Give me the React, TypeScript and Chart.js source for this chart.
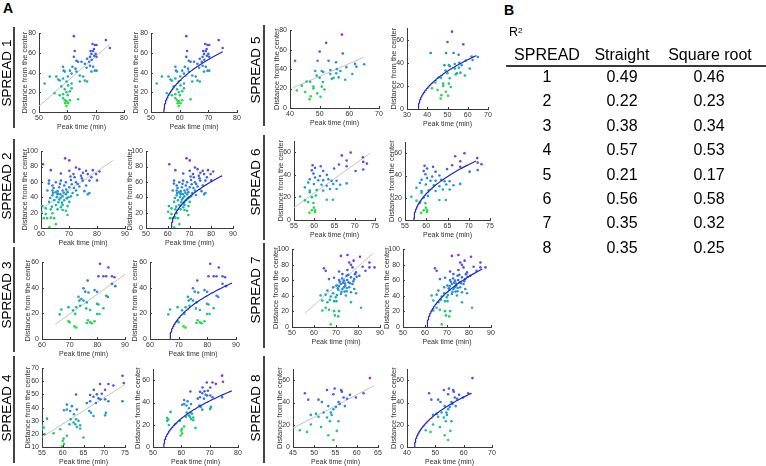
import React, { useEffect, useRef } from 'react';
import { Chart, registerables } from 'chart.js';
Chart.register(...registerables);

// ---------------- DATA ----------------
const spread1 = [[62.3,77],[73.6,73],[75,65],[68.9,69],[69.7,68],[70.3,68],[68.2,62],[69.1,62],[70,59],[68.5,59],[69.5,57],[70.3,56],[68,56],[62.6,62],[62.3,56],[63.2,52],[63.8,51],[65,51],[66.2,49],[67,54],[67.7,51],[68,47],[69.1,46],[69.7,42],[70.3,42],[68.5,41],[58.5,46],[58.7,42],[59.1,41],[60.9,42],[61.8,46],[61.5,39],[63.2,41],[64.4,37],[65.6,36],[66.2,32],[67,31],[64.4,31],[52,29],[53.8,36],[56.1,36],[57.3,32],[58.5,34],[59.7,31],[60.3,27],[61.5,29],[57.9,26],[59.1,23],[55.5,19],[57.3,17],[58.5,18],[59.7,20],[60.9,21],[61.5,24],[59.1,12],[59.7,11],[60.3,9],[59.7,6],[60.9,12],[63.8,13],[58.5,14],[69.4,64],[68.6,53],[66.8,45],[62.9,44],[60.2,36],[56.8,33],[60.1,17],[59.3,9]];
const spread2 = [[60.7,83],[68.6,90.7],[70.1,88],[63.5,75.3],[67.1,71],[70.1,74.5],[72.5,78.7],[73.7,76.6],[76.1,74.5],[78.5,75.3],[80.9,73.6],[71.6,70.2],[74.3,68],[76.7,70.2],[79.7,70.2],[62.9,61.7],[65.3,59.5],[67.1,61.7],[68.9,59.5],[70.7,62.5],[72.5,59.5],[74.9,61.7],[77.3,61.7],[64.1,55.3],[66.5,53.1],[68.3,55.3],[70.1,53.1],[73.7,54],[76.1,55.3],[62.3,48.9],[64.1,48.9],[65.9,48],[67.7,48.9],[69.5,46.7],[72.5,48.9],[75.5,48],[77.3,45.5],[64.1,42.5],[65.9,43.8],[67.7,41.2],[68.9,43.8],[70.7,41.2],[76.7,43.8],[64.7,36.1],[66.5,37],[68.3,36.1],[70.1,34],[62.9,34],[65.3,29.8],[67.7,29.8],[69.5,28.5],[60.5,28.5],[61.7,25.5],[63.5,24.3],[65.9,24.3],[67.7,23.4],[68.9,22.5],[60.2,21.2],[61.7,18.3],[64.1,19.2],[69.5,17],[61,12.8],[62.2,12.8],[63.5,13.5],[64.7,12.8],[65.3,5],[63,1],[66,45],[67,39],[69,50],[71,57],[64.5,52],[66.8,57.5],[72,66],[75,72],[78,66],[67.5,33],[63.3,39],[70.5,67],[73,43],[80,62],[65.2,46.5],[66.9,44.1],[68.1,46],[69.8,40],[71.3,45.5],[65.6,40.3],[64.3,45.7],[66.2,33.5],[67.1,27],[63.9,27.8],[69.2,38.6],[71.8,52],[73.1,57.3],[74.6,64.8],[62.8,57.8]];
const spread3 = [[81,58.8],[84,55.9],[80.4,49],[82.2,49],[83.2,49],[85.3,49],[86.2,48.3],[76.5,45.7],[85.3,43.1],[86.5,41.3],[75,39.6],[75.6,37],[76.8,36.3],[79,38.2],[79.9,36.9],[73.2,33],[74.2,31.2],[73.5,30],[75,30],[72.4,24.8],[73.8,26],[76.2,28.6],[83.2,33.8],[83.8,32.9],[79.9,27.5],[80.4,27],[82.2,24],[79.9,19.5],[80.8,19.5],[76,23.9],[77.4,22.6],[67,23],[69.6,24.9],[71.2,22.4],[72,19.6],[66.4,19.2],[76.6,14.7],[77.4,13],[78,12.3],[79,13.9],[69.6,13.9],[70,13],[71.7,9.9],[72.4,8.9],[76.2,12.5]];
const spread4 = [[74.4,64.2],[74.7,58.7],[69,58],[71,58],[72.2,56.8],[70.2,53.5],[67.5,53.5],[68.2,50.1],[69.4,50.6],[66.6,49.6],[63.2,50],[67.4,48.3],[68.6,47],[69.1,46.3],[70.2,46.3],[66.6,44.8],[71,44.8],[68,43.5],[74.4,44.8],[65.8,43.5],[61,42.3],[62.2,41.1],[61,38.6],[60.3,38],[61.8,37.4],[63.4,38.6],[66.4,37.4],[66.8,36.1],[67.4,33.6],[70.4,36.1],[70.2,34.1],[62.7,34.9],[61.9,31.1],[63.2,31.1],[63.8,29.9],[62.6,28.6],[64.2,26.6],[61.6,27.3],[63.4,25.3],[64.2,24.1],[63,27.3],[56.2,31.6],[55,26.1],[55.4,24.8],[55,23.5],[55.6,19.8],[57.8,20.5],[59.4,23.5],[61,18.5],[60.2,16.4],[60,14.7],[60.3,12.3],[59.8,10.3],[65,17.2]];
const spread5 = [[57.5,75.5],[52.2,67],[50,58],[57.8,56],[41.7,48.5],[49.3,48.5],[53,48.5],[55.5,47],[65,45],[62.4,42.5],[59,42],[55.8,40],[48.5,38],[50.7,38],[57,38],[53.6,35],[49,33.3],[55.6,35.7],[54.7,31],[56.4,31.5],[58.6,29],[54.1,30],[50,31],[45.6,27.3],[51.1,26.7],[50.7,22],[44,23],[47.9,22],[42.3,18],[45.1,16.5],[47.9,20],[51.6,19],[49.2,15],[46.6,9],[50.3,11.5],[47,12],[61,35],[61.9,45.4],[53.6,39],[51.2,37],[46.8,27]];
const spread6 = [[69,60],[72,55.7],[66.8,57.4],[72.1,51.6],[73,50.1],[70.2,43.5],[72.1,44.9],[68,47.8],[64.9,45.8],[68,52.8],[66.1,49.3],[59.6,48.7],[60.2,46.4],[61.6,47.8],[59.4,44.1],[59.8,41.2],[62.2,43.5],[63.1,40.1],[61.4,39.1],[60.2,37.7],[58.9,36.2],[61,35.3],[62.2,35.3],[63.5,36.2],[64.3,34.8],[65.5,34.8],[58.5,33.3],[59.9,31.9],[61.8,31.3],[63.1,30.4],[64.7,31.9],[66.4,31.3],[68,32.5],[57.7,29],[58.9,26.1],[60.6,26.7],[62.2,26.1],[63.9,27.5],[65.5,27.5],[58.9,24.6],[56.5,20.9],[59.4,20.3],[60.4,21.7],[57.7,17.4],[58.5,15.9],[63.1,18],[64.6,18],[59.8,15.1],[59.9,11],[59.4,8.7],[60.2,8.7],[58.8,6.4],[60.2,7.2]];
const spread7 = [[72.2,91.4],[80.9,90.2],[76,83],[78,85.3],[64.5,75.6],[65.3,72.2],[71.4,71.4],[76.8,79.9],[77.5,76.6],[75.2,73.2],[79.1,70.2],[82.1,77.4],[85.2,82.9],[83.4,72.3],[85.2,76.6],[87.5,76.6],[72.9,68],[74.8,65.9],[76.8,63.8],[78.3,61.6],[79.4,64.6],[80.6,65.9],[69.1,63.3],[66.8,61.6],[71.4,60.4],[73.7,59.6],[75.7,57.5],[77.5,55.3],[72.2,55.3],[70.2,53.2],[74.2,53.2],[76,51],[78.3,48.9],[68.7,51],[72.9,48.9],[71.1,47.6],[66.1,46.8],[74.8,46],[76.8,44.7],[79.1,43.4],[68.7,43.4],[72.2,42.5],[65.3,41.6],[74.5,40.4],[67.6,39.2],[63,40.4],[69.9,38.3],[67.2,34.9],[69.1,33.2],[76.8,31.9],[66.1,31.9],[70.2,33.2],[63.8,34.1],[65.3,24.7],[63.8,21.3],[66.8,22.1],[69.1,20.4],[71.4,20.4],[69.5,14.9],[71,13.6],[81.4,24.7],[67.6,3.4],[75.2,92.6],[73.2,57],[74.1,55.8],[75.1,60.5],[72.8,62.3],[73.6,51.2],[71.7,58.1],[76.4,56.2],[74.9,50.1],[73.9,45.5],[70.8,49.7],[77.9,58.9],[75.6,67.2],[78.6,67.9],[72.5,45.1],[71.3,52.5],[70.4,41.1]];
const spread8 = [[63.1,62],[54.8,52.7],[53,51.3],[47.8,48.4],[56.3,51.3],[54.5,47.5],[56.5,49.8],[58.4,46.9],[61.6,48.4],[56.9,44.6],[59.8,44.6],[57.7,43.4],[48.6,42.6],[51,42.6],[51.8,40.5],[55.7,40.5],[56,38.8],[57.2,36.8],[53.3,36.8],[55.1,35.9],[54.5,33.9],[49.2,28.9],[50.4,30],[52.2,31],[53.9,31],[54.1,28.9],[51,27.2],[53,26.6],[49.2,20.3],[51.6,18],[53.7,23.2],[55.7,23.2],[46.6,15.1],[48.3,13.6],[55.3,14.5],[53.3,10.6],[54.5,6.3]];

// straight fit: [x1, y1, x2, y2]
const straightFits = [[50,6,75,69],[60.5,25.5,85.7,88],[64.8,11.5,90.4,51],[55,17.5,75.2,58],[41.1,20.9,64.8,52],[55,11,73.8,59.4],[56,18,87,95],[45,17,64,55]];
// square-root fit y = a*sqrt(x - x0): [x0, a, xEnd]
const sqrtFits = [[54.5,13.5,75],[61.7,14.1,85],[67,9.4,88.6],[53.8,10.3,77.8],[35.6,8.64,64.3],[57.1,13.9,71.7],[61,14.9,86],[42.7,10.8,62.8]];

const spreadNames = ['1','2','3','4','5','6','7','8'];
const r2Straight = ['0.49','0.22','0.38','0.57','0.21','0.56','0.35','0.35'];
const r2Sqrt = ['0.46','0.23','0.34','0.53','0.17','0.58','0.32','0.25'];

const ticks50to80 = [50,60,70,80];
const ticks60to90 = [60,70,80,90];
const ticks50to90 = [50,60,70,80,90];
const ticks40to70 = [40,50,60,70];
const ticks30to70 = [30,40,50,60,70];
const ticks55to75 = [55,60,65,70,75];
const ticks45to65 = [45,50,55,60,65];
const yTicks80 = [0,20,40,60,80];
const yTicks100 = [0,20,40,60,80,100];
const yTicks60 = [0,20,40,60];
const yTicks10to70 = [10,20,30,40,50,60,70];

const allSpreads = [spread1, spread2, spread3, spread4, spread5, spread6, spread7, spread8];

// ---------------- LAYOUT ----------------
type PanelCfg = {
  s: number; kind: 'lin' | 'sqrt';
  xmin: number; xmax: number; xt: number[];
  ymin: number; ymax: number; yt: number[];
  L: number; T: number; R: number; B: number; titleOff: number;
};

const panels: PanelCfg[] = [
  { s: 0, kind: 'lin', xmin: 50, xmax: 80, xt: ticks50to80, ymin: 0, ymax: 80, yt: yTicks80, L: 39, T: 32, R: 124, B: 112, titleOff: 14.5 },
  { s: 0, kind: 'sqrt', xmin: 50, xmax: 80, xt: ticks50to80, ymin: 0, ymax: 80, yt: yTicks80, L: 151, T: 32, R: 237, B: 112, titleOff: 15 },
  { s: 4, kind: 'lin', xmin: 40, xmax: 70, xt: ticks40to70, ymin: 0, ymax: 80, yt: yTicks80, L: 290, T: 29, R: 379, B: 108, titleOff: 13.5 },
  { s: 4, kind: 'sqrt', xmin: 30, xmax: 70, xt: ticks30to70, ymin: 0, ymax: 70, yt: yTicks60, L: 407, T: 27, R: 488, B: 109, titleOff: 13.5 },

  { s: 1, kind: 'lin', xmin: 60, xmax: 90, xt: ticks60to90, ymin: 0, ymax: 100, yt: yTicks100, L: 41, T: 150, R: 125, B: 228, titleOff: 16 },
  { s: 1, kind: 'sqrt', xmin: 50, xmax: 90, xt: ticks50to90, ymin: 0, ymax: 100, yt: yTicks100, L: 146, T: 150, R: 233, B: 228, titleOff: 16 },
  { s: 5, kind: 'lin', xmin: 55, xmax: 75, xt: ticks55to75, ymin: 0, ymax: 70, yt: yTicks60, L: 294, T: 140, R: 375, B: 220, titleOff: 13.5 },
  { s: 5, kind: 'sqrt', xmin: 55, xmax: 75, xt: ticks55to75, ymin: 0, ymax: 70, yt: yTicks60, L: 405, T: 141, R: 490, B: 220, titleOff: 13.5 },

  { s: 2, kind: 'lin', xmin: 60, xmax: 90, xt: ticks60to90, ymin: 0, ymax: 60, yt: yTicks60, L: 42, T: 261, R: 125, B: 339, titleOff: 14.5 },
  { s: 2, kind: 'sqrt', xmin: 60, xmax: 90, xt: ticks60to90, ymin: 0, ymax: 60, yt: yTicks60, L: 150, T: 261, R: 236, B: 339, titleOff: 15 },
  { s: 6, kind: 'lin', xmin: 50, xmax: 90, xt: ticks50to90, ymin: 0, ymax: 100, yt: yTicks100, L: 292, T: 248, R: 380, B: 327, titleOff: 16 },
  { s: 6, kind: 'sqrt', xmin: 50, xmax: 90, xt: ticks50to90, ymin: 0, ymax: 100, yt: yTicks100, L: 403, T: 248, R: 491, B: 327, titleOff: 16 },

  { s: 3, kind: 'lin', xmin: 55, xmax: 75, xt: ticks55to75, ymin: 10, ymax: 70, yt: yTicks10to70, L: 42, T: 367, R: 125, B: 447, titleOff: 14.5 },
  { s: 3, kind: 'sqrt', xmin: 50, xmax: 80, xt: ticks50to80, ymin: 0, ymax: 70, yt: yTicks60, L: 153, T: 368, R: 238, B: 447, titleOff: 15 },
  { s: 7, kind: 'lin', xmin: 45, xmax: 65, xt: ticks45to65, ymin: 0, ymax: 70, yt: yTicks60, L: 293, T: 368, R: 378, B: 447, titleOff: 13.5 },
  { s: 7, kind: 'sqrt', xmin: 40, xmax: 70, xt: ticks40to70, ymin: 0, ymax: 70, yt: yTicks60, L: 407, T: 368, R: 492, B: 447, titleOff: 13.5 },
];

const FONT = '"Liberation Sans", Arial, Helvetica, sans-serif';
const AXIS = '#3a3a3a';
const TXT = '#333333';
const PAD_L = 28, PAD_T = 6, PAD_R = 8, PAD_B = 20;

const STOPS: [number, number[]][] = [
  [0, [45, 222, 55]],
  [0.28, [25, 190, 150]],
  [0.5, [35, 150, 215]],
  [0.72, [60, 100, 230]],
  [1, [145, 45, 225]],
];
function colorFor(t: number) {
  t = Math.max(0, Math.min(1, t));
  for (let i = 1; i < STOPS.length; i++) {
    if (t <= STOPS[i][0]) {
      const [t0, c0] = STOPS[i - 1];
      const [t1, c1] = STOPS[i];
      const f = (t - t0) / (t1 - t0);
      const c = c0.map((v, k) => Math.round(v + (c1[k] - v) * f));
      return `rgb(${c[0]},${c[1]},${c[2]})`;
    }
  }
  return 'rgb(145,45,225)';
}

const inTicks = {
  id: 'inTicks',
  afterDraw(chart: any) {
    const { ctx, chartArea, scales } = chart;
    ctx.save();
    ctx.strokeStyle = AXIS;
    ctx.lineWidth = 1;
    ctx.beginPath();
    scales.x.ticks.forEach((t: any) => {
      const px = Math.round(scales.x.getPixelForValue(t.value)) + 0.5;
      ctx.moveTo(px, chartArea.bottom);
      ctx.lineTo(px, chartArea.bottom - 2);
    });
    scales.y.ticks.forEach((t: any) => {
      const py = Math.round(scales.y.getPixelForValue(t.value)) + 0.5;
      ctx.moveTo(chartArea.left, py);
      ctx.lineTo(chartArea.left + 2, py);
    });
    ctx.stroke();
    ctx.restore();
  },
};

function buildConfig(p: PanelCfg): any {
  const pts = allSpreads[p.s];
  const ys = pts.map((d) => d[1]);
  const ymn = Math.min(...ys), ymx = Math.max(...ys);
  const scatter = {
    data: pts.map((d) => ({ x: d[0], y: d[1] })),
    pointBackgroundColor: pts.map((d) => colorFor((d[1] - ymn) / (ymx - ymn))),
    pointRadius: 1.3,
    pointBorderWidth: 0,
    showLine: false,
  };
  let line: any;
  if (p.kind === 'lin') {
    const f = straightFits[p.s];
    line = {
      data: [{ x: f[0], y: f[1] }, { x: f[2], y: f[3] }],
      showLine: true, borderColor: '#c4c4c4', borderWidth: 1, pointRadius: 0,
    };
  } else {
    const [x0, a, xe] = sqrtFits[p.s];
    const data = [];
    for (let i = 0; i <= 80; i++) {
      const t = i / 80;
      const x = x0 + (xe - x0) * t * t;
      data.push({ x, y: a * Math.sqrt(x - x0) });
    }
    line = { data, showLine: true, borderColor: '#2424c8', borderWidth: 1.2, pointRadius: 0 };
  }
  const datasets = p.kind === 'lin' ? [scatter, line] : [line, scatter];
  const tickFont = { family: FONT, size: 7 };
  return {
    type: 'scatter',
    data: { datasets },
    plugins: [inTicks],
    options: {
      animation: false,
      responsive: false,
      events: [],
      layout: { padding: { left: 0, top: PAD_T, right: PAD_R, bottom: 0 } },
      plugins: { legend: { display: false }, tooltip: { enabled: false } },
      scales: {
        x: {
          type: 'linear', min: p.xmin, max: p.xmax,
          afterBuildTicks: (s: any) => { s.ticks = p.xt.map((v) => ({ value: v })); },
          afterFit: (s: any) => { s.height = PAD_B; },
          grid: { display: false, drawTicks: false },
          border: { display: true, color: AXIS, width: 1 },
          ticks: { padding: 2, font: tickFont, color: TXT, maxRotation: 0, autoSkip: false },
          title: { display: true, text: 'Peak time (min)', font: { family: FONT, size: 7 }, color: TXT, padding: { top: 0, bottom: 0.8 } },
        },
        y: {
          type: 'linear', min: p.ymin, max: p.ymax,
          afterBuildTicks: (s: any) => { s.ticks = p.yt.map((v) => ({ value: v })); },
          afterFit: (s: any) => { s.width = PAD_L; },
          grid: { display: false, drawTicks: false },
          border: { display: true, color: AXIS, width: 1 },
          ticks: { padding: 3, font: tickFont, color: TXT, autoSkip: false },
          title: { display: true, text: 'Distance from the center', font: { family: FONT, size: 7.5 }, color: TXT, padding: { top: PAD_L - p.titleOff - 4.5, bottom: 0 } },
        },
      },
    },
  };
}

function Panel({ p }: { p: PanelCfg }) {
  const ref = useRef<HTMLCanvasElement>(null);
  useEffect(() => {
    const chart = new Chart(ref.current as HTMLCanvasElement, buildConfig(p));
    return () => chart.destroy();
  }, [p]);
  const w = p.R - p.L + PAD_L + PAD_R;
  const h = p.B - p.T + PAD_T + PAD_B;
  return (
    <canvas ref={ref} width={w} height={h}
      style={{ position: 'absolute', left: p.L - PAD_L, top: p.T - PAD_T, width: w, height: h }} />
  );
}

const spreadLabels = [
  { x: 6.5, y: 73, top: 27, bottom: 128, lx: 14 },
  { x: 6.5, y: 186, top: 139, bottom: 243, lx: 14 },
  { x: 6.5, y: 295, top: 247, bottom: 352, lx: 14 },
  { x: 6.5, y: 408, top: 356, bottom: 463, lx: 14 },
  { x: 256, y: 70, top: 25, bottom: 126, lx: 264 },
  { x: 256, y: 182, top: 135, bottom: 240, lx: 264 },
  { x: 256, y: 290, top: 243, bottom: 348, lx: 264 },
  { x: 256, y: 408, top: 356, bottom: 463, lx: 264 },
];

export default function App() {
  const rowBase = 82.4, rowStep = 24.4;
  const cell = (text: string, cx: number, baseline: number, key: string) => (
    <div key={key} style={{ position: 'absolute', left: cx - 60, width: 120, top: baseline - 13.5, textAlign: 'center', fontSize: 16, lineHeight: '16px', whiteSpace: 'nowrap' }}>{text}</div>
  );
  return (
    <div style={{ position: 'absolute', left: 0, top: 0, width: 766, height: 466, background: '#fff', overflow: 'hidden', fontFamily: FONT, color: '#000' }}>
      <div style={{ position: 'absolute', left: 3, top: 1, fontSize: 14, fontWeight: 'bold', lineHeight: '14px' }}>A</div>
      <div style={{ position: 'absolute', left: 504, top: 3, fontSize: 14, fontWeight: 'bold', lineHeight: '14px' }}>B</div>
      {panels.map((p, i) => <Panel key={i} p={p} />)}
      {spreadLabels.map((s, i) => (
        <React.Fragment key={'s' + i}>
          <div style={{ position: 'absolute', left: s.x, top: s.y, transform: 'translate(-50%,-50%) rotate(-90deg)', fontSize: 13.5, lineHeight: '14px', whiteSpace: 'nowrap' }}>SPREAD {spreadNames[i]}</div>
          <div style={{ position: 'absolute', left: s.lx - 0.75, top: s.top, width: 1.5, height: s.bottom - s.top, background: '#444' }} />
        </React.Fragment>
      ))}
      <div style={{ position: 'absolute', left: 509, top: 26.4, fontSize: 12.5, lineHeight: '12.5px', whiteSpace: 'nowrap' }}>R<span style={{ fontSize: 8, verticalAlign: 'top', position: 'relative', top: -1 }}>2</span></div>
      {cell('SPREAD', 547, 60, 'h1')}
      {cell('Straight', 622, 60, 'h2')}
      {cell('Square root', 710, 60, 'h3')}
      <div style={{ position: 'absolute', left: 506, top: 64.5, width: 260, height: 2, background: '#3a3a3a' }} />
      {spreadNames.map((n, i) => (
        <React.Fragment key={'r' + i}>
          {cell(n, 547, rowBase + i * rowStep, 'a' + i)}
          {cell(r2Straight[i], 622, rowBase + i * rowStep, 'b' + i)}
          {cell(r2Sqrt[i], 709, rowBase + i * rowStep, 'c' + i)}
        </React.Fragment>
      ))}
    </div>
  );
}
